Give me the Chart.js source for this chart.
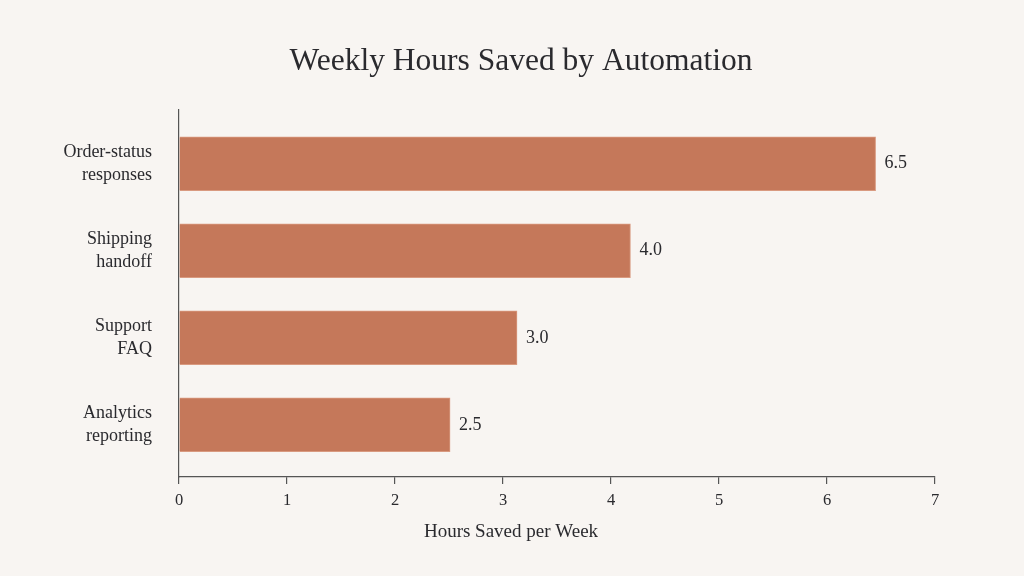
<!DOCTYPE html>
<html>
<head>
<meta charset="utf-8">
<script src="https://cdn.jsdelivr.net/npm/chart.js@4/dist/chart.umd.min.js"></script>
<style>
  html, body { margin: 0; padding: 0; background: #f8f5f2; }
  #wrap { width: 1024px; height: 576px; }
</style>
</head>
<body>
<div id="wrap"><canvas id="chart"></canvas></div>
<script>
// ---- data ----
const categories = [['Order-status', 'responses'], ['Shipping', 'handoff'], ['Support', 'FAQ'], ['Analytics', 'reporting']];
const hoursSaved = [6.45, 4.18, 3.13, 2.51];
const valueLabels = ['6.5', '4.0', '3.0', '2.5'];
const xTicks = [0, 1, 2, 3, 4, 5, 6, 7];
const xAxisTitle = 'Hours Saved per Week';

const FONT = "'Liberation Serif', 'DejaVu Serif', serif";
const INK = '#2a2a2e';
const BAR = '#c5785a';

// value text to the right of each bar + x axis title (centred on the figure, not the plot)
const labelPlugin = {
    id: 'labels',
    afterDatasetsDraw(chart) {
        const ctx = chart.ctx;
        const meta = chart.getDatasetMeta(0);
        ctx.save();
        ctx.font = `18px ${FONT}`;
        ctx.fillStyle = INK;
        ctx.textAlign = 'left';
        ctx.textBaseline = 'middle';
        meta.data.forEach((bar, i) => {
            ctx.fillText(valueLabels[i], bar.x + 9, bar.y);
        });
        const xs = chart.scales.x;
        ctx.font = `19px ${FONT}`;
        ctx.textAlign = 'center';
        ctx.fillText(xAxisTitle, chart.width / 2 - 1, xs.bottom - 8);
        ctx.restore();
    }
};

// title in the reference sits a bit right of the canvas centre
const titleShift = {
    id: 'titleShift',
    afterLayout(chart) {
        if (chart.titleBlock) {
            chart.titleBlock.left = 18;
            chart.titleBlock.right = chart.width;
        }
    }
};

new Chart(document.getElementById('chart'), {
    type: 'bar',
    data: {
        datasets: [{
            data: hoursSaved.map((v, i) => ({ x: v, y: i })),
            backgroundColor: BAR,
            borderColor: '#d99a80',
            borderWidth: 1,
            borderSkipped: 'left',
            barThickness: 54
        }]
    },
    options: {
        indexAxis: 'y',
        responsive: true,
        maintainAspectRatio: false,
        animation: false,
        layout: { padding: { left: 0, right: 89, top: 0, bottom: 36 } },
        plugins: {
            legend: { display: false },
            tooltip: { enabled: false },
            title: {
                display: true,
                text: 'Weekly Hours Saved by Automation',
                color: INK,
                font: { family: FONT, size: 31.5, weight: 'normal', lineHeight: 1.2 },
                padding: { top: 43, bottom: 29 }
            }
        },
        scales: {
            y: {
                type: 'linear',
                reverse: true,
                offset: false,
                min: -0.62,
                max: 3.6,
                afterBuildTicks: s => {
                    s.ticks = categories.map((c, i) => ({ value: i }));
                },
                afterFit: s => { s.width = 179; },
                grid: { display: false, offset: false },
                border: { display: true, color: '#555', width: 1.2 },
                ticks: {
                    color: INK,
                    padding: 19,
                    font: { family: FONT, size: 18, lineHeight: 1.28 },
                    callback: v => categories[v]
                }
            },
            x: {
                type: 'linear',
                min: 0,
                max: 7,
                afterBuildTicks: s => {
                    s.ticks = xTicks.map(v => ({ value: v }));
                },
                afterFit: s => { s.height = 63; },
                grid: { drawOnChartArea: false, drawTicks: true, tickLength: 7, color: '#555', lineWidth: 1.2 },
                border: { display: true, color: '#555', width: 1.2 },
                ticks: {
                    color: INK,
                    padding: 7,
                    font: { family: FONT, size: 16.5 }
                }
            }
        }
    },
    plugins: [labelPlugin, titleShift]
});
</script>
</body>
</html>
